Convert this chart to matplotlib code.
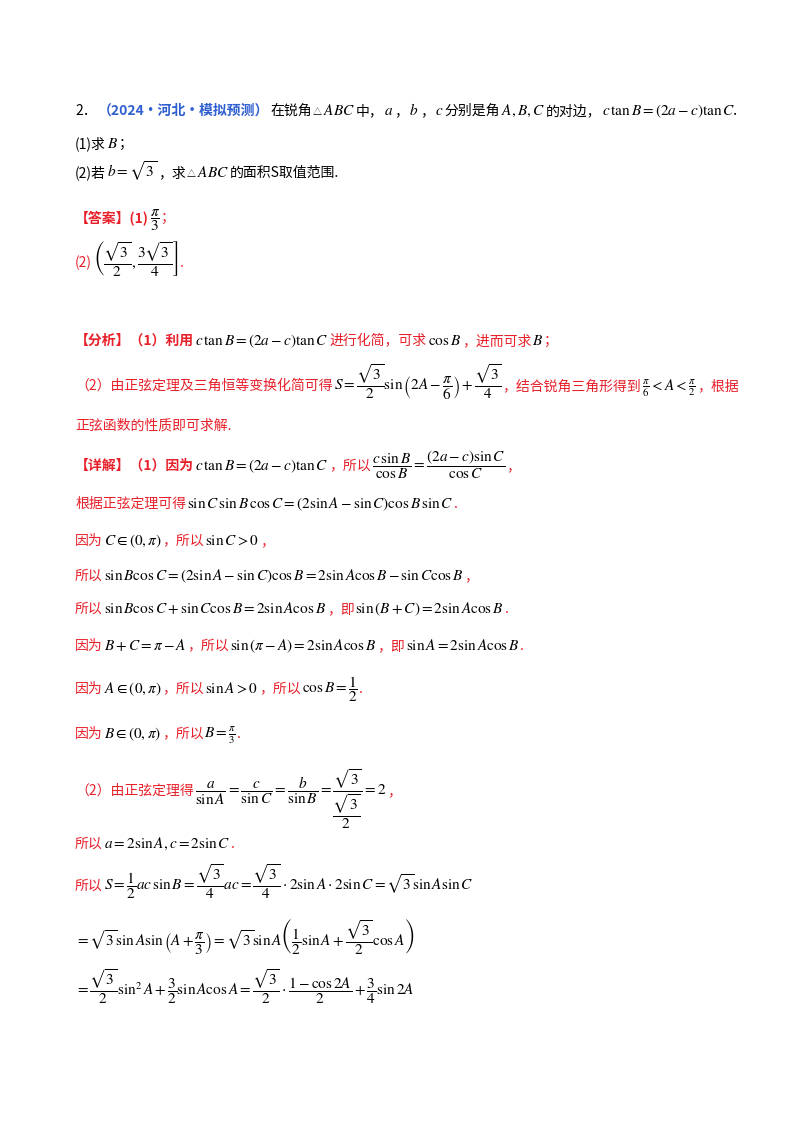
import matplotlib
matplotlib.use("Agg")
import matplotlib.pyplot as plt

plt.rcParams["font.family"] = ["Noto Sans CJK SC", "DejaVu Sans"]
plt.rcParams["mathtext.fontset"] = "stix"

K = "black"
R = "#e8202a"
B = "#2f5fd0"

# each line: (baseline y in px, x start in px, [(text, colour), ...])
lines = [
    (115, 75, [("2．", K), ("（2024·河北·模拟预测）", B),
               ("在锐角", K), ("△", "tri"), (r"$ABC$", K), ("中，", K), (r"$a$", K), ("，", K),
               (r"$b$", K), ("，", K), (r"$c$", K), ("分别是角", K), (r"$A,B,C$", K),
               ("的对边，", K), (r"$c\,\tan B=\left(2a-c\right)\tan C$.", K)]),
    (148, 75, [("(1)求", K), (r"$B$", K), ("；", K)]),
    (177, 75, [("(2)若", K), (r"$b=\sqrt{3}$", K), ("，求", K), ("△", "tri"), (r"$ABC$", K),
               ("的面积S取值范围.", K)]),
    (222, 75, [("【答案】(1)", R), (r"$\dfrac{\pi}{3}$", K), ("；", R)]),
    (267, 75, [("(2)", R), (r"$\left(\dfrac{\sqrt{3}}{2},\dfrac{3\sqrt{3}}{4}\right]$", K), (".", R)]),
    (345, 75, [("【分析】（1）利用", R), (r"$c\,\tan B=\left(2a-c\right)\tan C$", K),
               ("进行化简，可求", R), (r"$\cos B$", K), ("，进而可求", R), (r"$B$", K), ("；", R)]),
    (390, 75, [("（2）由正弦定理及三角恒等变换化简可得", R),
               (r"$S=\dfrac{\sqrt{3}}{2}\sin\left(2A-\dfrac{\pi}{6}\right)+\dfrac{\sqrt{3}}{4}$", K),
               ("，结合锐角三角形得到", R), (r"$\frac{\pi}{6}<A<\frac{\pi}{2}$", K), ("，根据", R)]),
    (430, 75, [("正弦函数的性质即可求解.", R)]),
    (470, 75, [("【详解】（1）因为", R), (r"$c\,\tan B=\left(2a-c\right)\tan C$", K),
               ("，所以", R), (r"$\dfrac{c\,\sin B}{\cos B}=\dfrac{\left(2a-c\right)\sin C}{\cos C}$", K),
               ("，", R)]),
    (508, 75, [("根据正弦定理可得", R),
               (r"$\sin C\,\sin B\,\cos C=\left(2\sin A-\sin C\right)\cos B\,\sin C$", K), (".", R)]),
    (545, 75, [("因为", R), (r"$C\in\left(0,\pi\right)$", K), ("，所以", R), (r"$\sin C>0$", K), ("，", R)]),
    (580, 75, [("所以", R),
               (r"$\sin B\cos C=\left(2\sin A-\sin C\right)\cos B=2\sin A\cos B-\sin C\cos B$", K),
               ("，", R)]),
    (613, 75, [("所以", R), (r"$\sin B\cos C+\sin C\cos B=2\sin A\cos B$", K), ("，即", R),
               (r"$\sin\left(B+C\right)=2\sin A\cos B$", K), (".", R)]),
    (650, 75, [("因为", R), (r"$B+C=\pi-A$", K), ("，所以", R),
               (r"$\sin\left(\pi-A\right)=2\sin A\cos B$", K), ("，即", R),
               (r"$\sin A=2\sin A\cos B$", K), (".", R)]),
    (693, 75, [("因为", R), (r"$A\in\left(0,\pi\right)$", K), ("，所以", R), (r"$\sin A>0$", K),
               ("，所以", R), (r"$\cos B=\dfrac{1}{2}$", K), (".", R)]),
    (738, 75, [("因为", R), (r"$B\in\left(0,\pi\right)$", K), ("，所以", R),
               (r"$B=\frac{\pi}{3}$", K), (".", R)]),
    (795, 75, [("（2）由正弦定理得", R),
               (r"$\dfrac{a}{\sin A}=\dfrac{c}{\sin C}=\dfrac{b}{\sin B}=\dfrac{\sqrt{3}}{\dfrac{\sqrt{3}}{2}}=2$", K),
               ("，", R)]),
    (848, 75, [("所以", R), (r"$a=2\sin A, c=2\sin C$", K), (".", R)]),
    (890, 75, [("所以", R),
               (r"$S=\dfrac{1}{2}ac\,\sin B=\dfrac{\sqrt{3}}{4}ac=\dfrac{\sqrt{3}}{4}\cdot 2\sin A\cdot 2\sin C=\sqrt{3}\sin A\sin C$", K)]),
    (945, 75, [(r"$=\sqrt{3}\sin A\sin\left(A+\dfrac{\pi}{3}\right)=\sqrt{3}\sin A\left(\dfrac{1}{2}\sin A+\dfrac{\sqrt{3}}{2}\cos A\right)$", K)]),
    (995, 75, [(r"$=\dfrac{\sqrt{3}}{2}\sin^2 A+\dfrac{3}{2}\sin A\cos A=\dfrac{\sqrt{3}}{2}\cdot\dfrac{1-\cos 2A}{2}+\dfrac{3}{4}\sin 2A$", K)]),
]

W, H = 800, 1132
fig = plt.figure(figsize=(W / 100, H / 100), dpi=100)
fig.patch.set_facecolor("white")
renderer = fig.canvas.get_renderer()

for y, x0, segs in lines:
    x = x0
    for txt, col in segs:
        is_math = txt.startswith("$")
        size = 11 if is_math else 10
        if col == "tri":
            col, size = K, 6.5
        t = fig.text(x / W, 1 - y / H, txt, color=col, ha="left", va="baseline",
                     fontsize=size,
                     fontweight="bold" if (col == B or txt.startswith("【")) else "normal")
        bb = t.get_window_extent(renderer)
        x += bb.width + 1

fig.savefig("out.png", dpi=100, facecolor="white")
